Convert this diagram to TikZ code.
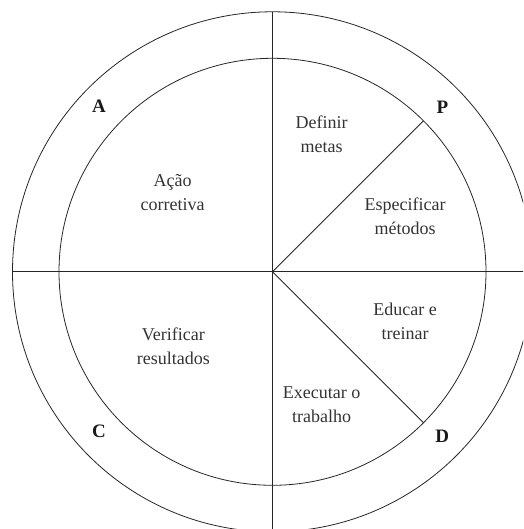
\documentclass[tikz,border=0pt]{standalone}
\usepackage{fontspec}
\setmainfont{Liberation Serif}
\usepackage{tikz}

\begin{document}
\begin{tikzpicture}[x=1pt,y=1pt,
		ring/.style={line width=0.8pt,draw=black!85},
		stage/.style={font=\fontsize{18}{24}\selectfont,align=center,text=black!80},
		letter/.style={font=\fontsize{19}{22}\selectfont\bfseries,text=black!90}]
		\useasboundingbox (0,0) rectangle (523,529);
		\clip (0,0) rectangle (523,529);
		
		% Circles
		\coordinate (O) at (272.5,257.2);
		\draw[ring] (O) circle (260);
		\draw[ring] (O) circle (213.5);
		
		% Axes
		\coordinate (top) at (272.5,517.2);
		\coordinate (bottom) at (272.5,-2.8);
		\coordinate (left) at (12.5,257.2);
		\coordinate (right) at (532.5,257.2);
		\draw[ring] (top) -- (bottom);
		\draw[ring] (left) -- (right);
		
		% Diagonals P and D
		\coordinate (pEnd) at (423.5,408.2);
		\coordinate (dEnd) at (423.5,106.2);
		\draw[ring] (O) -- (pEnd);
		\draw[ring] (O) -- (dEnd);
		
		% Stage letters
		\node[letter] (P) at (442.3,422) {P};
		\node[letter] (D) at (442.3,92.3) {D};
		\node[letter] (A) at (99,422.3) {A};
		\node[letter] (C) at (99,97.3) {C};
		
		% Steps
		\node[stage] (metas) at (321.7,395) {Definir\\metas};
		\node[stage] (metodos) at (405,312.5) {Especificar\\métodos};
		\node[stage] (treinar) at (405,207.7) {Educar e\\treinar};
		\node[stage] (trabalho) at (321.7,124) {Executar o\\trabalho};
		\node[stage] (resultados) at (173.3,182.5) {Verificar\\resultados};
		\node[stage] (acao) at (172.7,336.7) {Ação\\corretiva};
	\end{tikzpicture}
\end{document}
